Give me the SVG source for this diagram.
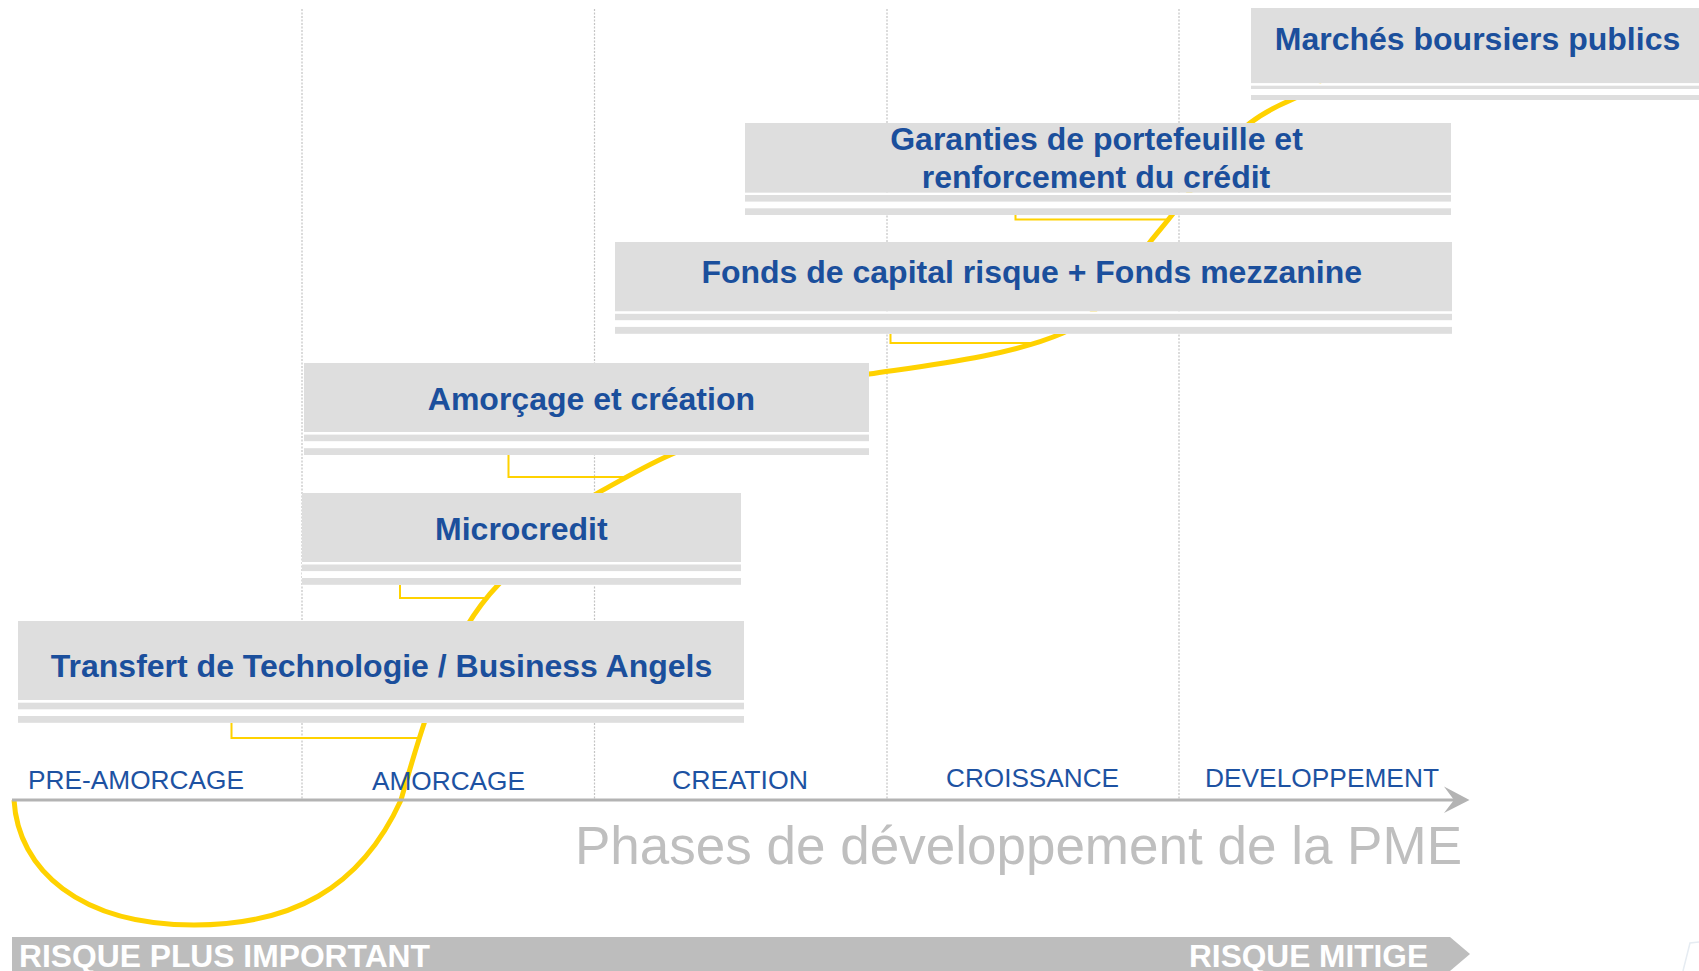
<svg xmlns="http://www.w3.org/2000/svg" width="1699" height="971" viewBox="0 0 1699 971">
<style>
.grid{stroke:#c4c4c4;stroke-width:1.2;stroke-dasharray:2 1.5;fill:none}
.main{fill:#dedede}
.gap{fill:#ffffff}
.stripe{fill:#dedede}
.bt{font-family:"Liberation Sans",Arial,sans-serif;font-weight:bold;font-size:32px;fill:#1b4f9c;text-anchor:middle}
.ph{font-family:"Liberation Sans",Arial,sans-serif;font-size:26.6px;fill:#1d52a2}
.br{stroke:#ffd200;stroke-width:2;fill:none}
.curve{stroke:#ffd200;stroke-width:5;fill:none;stroke-linecap:butt}
.band{font-family:"Liberation Sans",Arial,sans-serif;font-weight:bold;font-size:31.5px;fill:#ffffff}
</style>
<rect width="1699" height="971" fill="#ffffff"/>
<g id="grid">
<line class="grid" x1="302" y1="9" x2="302" y2="799"/>
<line class="grid" x1="594.5" y1="9" x2="594.5" y2="799"/>
<line class="grid" x1="887" y1="9" x2="887" y2="799"/>
<line class="grid" x1="1179" y1="9" x2="1179" y2="799"/>
</g>
<g id="connectors">
<path class="br" d="M231.5,723 V738 H420"/>
<path class="br" d="M400,585 V598 H484"/>
<path class="br" d="M508.5,455 V477 H624"/>
<path class="br" d="M890.5,334 V343 H1036"/>
<path class="br" d="M1015.5,215 V219.5 H1166"/>
<path class="curve" d="M14,800 C18,870 80,925 194,925 C290,925 360,890 401,800 C421,730 445,640 498,585 C530,552 573,507 598,493 C623,479 645,466 670,455 C740,425 820,381 869,374 C930,365 1010,356 1063,333 C1100,317 1132,264 1150,242 C1158,232 1165,224 1172,215 C1200,180 1222,145 1250,123 C1263,113 1277,106 1291,100 C1302,95 1312,90 1322,85"/>
</g>
<g id="axis">
<line x1="12" y1="800" x2="1454" y2="800" stroke="#b3b3b3" stroke-width="3"/>
<polygon points="1469.5,800 1444,786.5 1454,800 1444,813" fill="#b3b3b3"/>
<text class="ph" x="28" y="789" textLength="216" lengthAdjust="spacingAndGlyphs">PRE-AMORCAGE</text>
<text class="ph" x="372" y="790" textLength="153" lengthAdjust="spacingAndGlyphs">AMORCAGE</text>
<text class="ph" x="672" y="789" textLength="136" lengthAdjust="spacingAndGlyphs">CREATION</text>
<text class="ph" x="946" y="787" textLength="173" lengthAdjust="spacingAndGlyphs">CROISSANCE</text>
<text class="ph" x="1205" y="787" textLength="234" lengthAdjust="spacingAndGlyphs">DEVELOPPEMENT</text>
</g>
<g id="box-transfert">
<rect class="main" x="18" y="621" width="726" height="79"/>
<rect class="gap" x="18" y="700" width="726" height="23"/>
<rect class="stripe" x="18" y="702.7" width="726" height="6.6"/>
<rect class="stripe" x="18" y="716" width="726" height="6.8"/>
<text class="bt" x="381.5" y="677">Transfert de Technologie / Business Angels</text>
</g>
<g id="box-microcredit">
<rect class="main" x="302" y="493" width="439" height="69"/>
<rect class="gap" x="302" y="562" width="439" height="23"/>
<rect class="stripe" x="302" y="564.5" width="439" height="6.6"/>
<rect class="stripe" x="302" y="578" width="439" height="6.8"/>
<text class="bt" x="521.3" y="540">Microcredit</text>
</g>
<g id="box-amorcage">
<rect class="main" x="304" y="363" width="565" height="69"/>
<rect class="gap" x="304" y="432" width="565" height="23"/>
<rect class="stripe" x="304" y="434.6" width="565" height="6.6"/>
<rect class="stripe" x="304" y="448.2" width="565" height="6.8"/>
<text class="bt" x="591.4" y="410">Amorçage et création</text>
</g>
<g id="box-fonds">
<rect class="main" x="615" y="242" width="837" height="69.5"/>
<rect class="gap" x="615" y="311.5" width="837" height="22.5"/>
<rect class="stripe" x="615" y="313.8" width="837" height="6.4"/>
<rect class="stripe" x="615" y="326.9" width="837" height="6.9"/>
<text class="bt" x="1031.7" y="283">Fonds de capital risque + Fonds mezzanine</text>
</g>
<g id="box-garanties">
<rect class="main" x="745" y="123" width="706" height="69.8"/>
<rect class="gap" x="745" y="192.8" width="706" height="22.2"/>
<rect class="stripe" x="745" y="195" width="706" height="6.6"/>
<rect class="stripe" x="745" y="208.3" width="706" height="6.7"/>
<text class="bt" x="1096.5" y="150">Garanties de portefeuille et</text>
<text class="bt" x="1096" y="188">renforcement du crédit</text>
</g>
<g id="box-marches">
<rect class="main" x="1251" y="8" width="448" height="75.3"/>
<rect class="gap" x="1251" y="83.3" width="448" height="16.7"/>
<rect class="stripe" x="1251" y="85.7" width="448" height="3.3"/>
<rect class="stripe" x="1251" y="95" width="448" height="5"/>
<text class="bt" x="1477.5" y="50">Marchés boursiers publics</text>
</g>
<g id="title">
<text x="575" y="864" font-family="'Liberation Sans',Arial,sans-serif" font-size="53" fill="#bfbfbf" textLength="887" lengthAdjust="spacingAndGlyphs">Phases de développement de la PME</text>
</g>
<g id="risk-band">
<path d="M12,937 H1450 L1470,954 L1450,971 H12 Z" fill="#bdbdbd"/>
<text class="band" x="19" y="967" textLength="411" lengthAdjust="spacingAndGlyphs">RISQUE PLUS IMPORTANT</text>
<text class="band" x="1189" y="967" textLength="239" lengthAdjust="spacingAndGlyphs">RISQUE MITIGE</text>
</g>
<path d="M1683,971 L1690,943 L1699,942" fill="none" stroke="#e6ecf2" stroke-width="1.5"/>
</svg>
